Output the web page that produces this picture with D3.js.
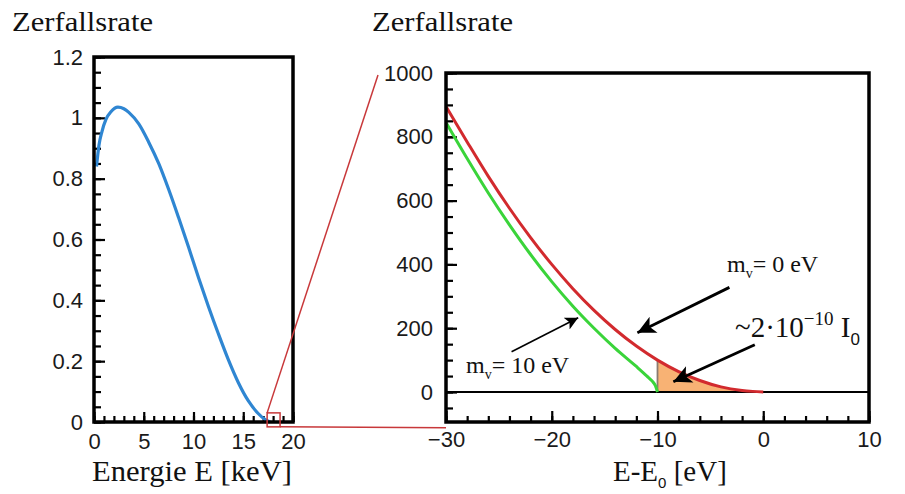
<!DOCTYPE html>
<html>
<head>
<meta charset="utf-8">
<script src="https://cdn.jsdelivr.net/npm/d3@7"></script>
<style>
  body { margin: 0; background: #fff; }
  svg { display: block; }
  .tick text { font-family: "Liberation Sans", Arial, sans-serif; font-size: 22px; fill: #1a1a1a; }
  .domain { display: none; }
  .lbl { font-family: "Liberation Serif", "Times New Roman", serif; fill: #111; }
</style>
</head>
<body>
<svg id="chart" width="905" height="494"></svg>
<script>
// full spectrum, E [keV] vs rate
var spectrumE = [0.25, 0.5, 0.8, 1.2, 1.7, 2.4, 3.0, 3.5, 4.5, 5.5, 6.5, 7.5, 8.5, 9.5, 10.5, 11.5, 12.5, 13.5, 14.5, 15.5, 16.5, 17.2, 17.7];
var spectrumRate = [0.84, 0.91, 0.955, 0.995, 1.02, 1.035, 1.03, 1.018, 0.98, 0.92, 0.85, 0.765, 0.672, 0.575, 0.475, 0.38, 0.29, 0.205, 0.13, 0.07, 0.028, 0.008, 0];

// endpoint region, E-E0 [eV]
var m0E = [-30, -28, -26, -24, -22, -20, -18, -16, -14, -12, -10, -8, -6, -4, -2, -1, 0];
var m0Rate = [895, 784, 676, 576, 484, 400, 324, 256, 196, 144, 100, 64, 36, 16, 5, 2, 0];
var m10E = [-30, -28, -26, -24, -22, -20, -18, -16, -14, -12, -11, -10.5, -10.2, -10];
var m10Rate = [845, 732, 624, 524, 431, 346, 269, 200, 137, 80, 50, 34, 20, 0];
var fillE = [-10, -8, -6, -4, -2, 0];
var fillRate = [100, 64, 36, 16, 5, 0];

var leftXTicks = [0, 5, 10, 15, 20];
var leftYTicks = [0, 0.2, 0.4, 0.6, 0.8, 1, 1.2];
var rightXTicks = [-30, -20, -10, 0, 10];
var rightYTicks = [0, 200, 400, 600, 800, 1000];

var svg = d3.select("#chart");

function styleTicks(g) {
    g.selectAll(".tick line").attr("stroke", "#000").attr("stroke-width", 2.2);
}

// ---------- left panel ----------
var xl = d3.scaleLinear().domain([0, 20]).range([94, 293]);
var yl = d3.scaleLinear().domain([0, 1.2]).range([422, 57]);

var gl = svg.append("g");
gl.append("g").attr("transform", "translate(0,422)")
    .call(d3.axisBottom(xl).tickValues(d3.range(0, 21, 1)).tickSize(-6).tickFormat(""));
gl.append("g").attr("transform", "translate(0,422)")
    .call(d3.axisBottom(xl).tickValues(leftXTicks).tickSize(-10).tickPadding(11).tickFormat(d3.format("d")));
gl.append("g").attr("transform", "translate(94,0)")
    .call(d3.axisLeft(yl).tickValues(d3.range(0, 1.21, 0.05)).tickSize(-7).tickFormat(""));
gl.append("g").attr("transform", "translate(94,0)")
    .call(d3.axisLeft(yl).tickValues(leftYTicks).tickSize(-11).tickPadding(11).tickFormat(function(d){ return d3.format("~g")(d); }));
styleTicks(gl);

svg.append("path")
    .datum(d3.zip(spectrumE, spectrumRate))
    .attr("fill", "none")
    .attr("stroke", "#2f86d2")
    .attr("stroke-width", 3.2)
    .attr("d", d3.line().x(function(d){ return xl(d[0]); }).y(function(d){ return yl(d[1]); }).curve(d3.curveMonotoneX));

svg.append("rect")
    .attr("x", 94).attr("y", 57).attr("width", 199).attr("height", 365)
    .attr("fill", "none").attr("stroke", "#000").attr("stroke-width", 3.5);

// ---------- right panel ----------
var xr = d3.scaleLinear().domain([-30, 10]).range([446, 869]);
var yr = d3.scaleLinear().domain([-94, 1000]).range([422, 73]);

// zoom marker
var zoomBox = [17.4, 18.7, -0.016, 0.03];
svg.append("line")
    .attr("x1", xl(zoomBox[0])).attr("y1", yl(zoomBox[3]))
    .attr("x2", 378).attr("y2", 75)
    .attr("stroke", "#c8383a").attr("stroke-width", 1.5);
svg.append("line")
    .attr("x1", xl(zoomBox[1])).attr("y1", yl(zoomBox[2]))
    .attr("x2", xr(-30)).attr("y2", yl(zoomBox[2]) + 1)
    .attr("stroke", "#c8383a").attr("stroke-width", 1.5);
svg.append("rect")
    .attr("x", xl(zoomBox[0])).attr("y", yl(zoomBox[3]))
    .attr("width", xl(zoomBox[1]) - xl(zoomBox[0]))
    .attr("height", yl(zoomBox[2]) - yl(zoomBox[3]))
    .attr("fill", "none").attr("stroke", "#c8383a").attr("stroke-width", 1.5);

var gr = svg.append("g");
gr.append("g").attr("transform", "translate(0,422)")
    .call(d3.axisBottom(xr).tickValues(d3.range(-30, 11, 2)).tickSize(-6).tickFormat(""));
gr.append("g").attr("transform", "translate(0,422)")
    .call(d3.axisBottom(xr).tickValues(rightXTicks).tickSize(-11).tickPadding(9));
gr.append("g").attr("transform", "translate(446,0)")
    .call(d3.axisLeft(yr).tickValues(d3.range(-50, 1001, 50)).tickSize(-7).tickFormat(""));
gr.append("g").attr("transform", "translate(446,0)")
    .call(d3.axisLeft(yr).tickValues(rightYTicks).tickSize(-11).tickPadding(13).tickFormat(d3.format("d")));
styleTicks(gr);

var lineR = d3.line().x(function(d){ return xr(d[0]); }).y(function(d){ return yr(d[1]); }).curve(d3.curveMonotoneX);

svg.append("path")
    .datum(d3.zip(fillE, fillRate))
    .attr("fill", "#f8b274")
    .attr("d", d3.area().x(function(d){ return xr(d[0]); }).y0(yr(0)).y1(function(d){ return yr(d[1]); }).curve(d3.curveMonotoneX));
svg.append("line")
    .attr("x1", xr(-10)).attr("x2", xr(-10))
    .attr("y1", yr(0)).attr("y2", yr(fillRate[0]))
    .attr("stroke", "#8a7a70").attr("stroke-width", 1.8);

svg.append("line")
    .attr("x1", 446).attr("x2", 869).attr("y1", yr(0)).attr("y2", yr(0))
    .attr("stroke", "#000").attr("stroke-width", 2);

svg.append("path")
    .datum(d3.zip(m10E, m10Rate))
    .attr("fill", "none").attr("stroke", "#3ad43a").attr("stroke-width", 3)
    .attr("d", lineR);
svg.append("path")
    .datum(d3.zip(m0E, m0Rate))
    .attr("fill", "none").attr("stroke", "#d22a2e").attr("stroke-width", 3)
    .attr("d", lineR);

svg.append("rect")
    .attr("x", 446).attr("y", 73).attr("width", 423).attr("height", 349)
    .attr("fill", "none").attr("stroke", "#000").attr("stroke-width", 3.5);

// arrows
var defs = svg.append("defs");
function head(id, w, h) {
    defs.append("marker").attr("id", id)
        .attr("viewBox", "0 0 10 10").attr("refX", 10).attr("refY", 5)
        .attr("markerWidth", w).attr("markerHeight", h)
        .attr("markerUnits", "userSpaceOnUse").attr("orient", "auto")
      .append("path").attr("d", "M0,0 L10,5 L0,10 L2.5,5 Z").attr("fill", "#000");
}
head("headS", 17, 13);
head("headL", 24, 18);

var arrows = [
    { from: [-23.8, 126], to: [-17.5, 233], w: 1.6, m: "headS" },
    { from: [-3.2, 328], to: [-11.9, 186], w: 2.8, m: "headL" },
    { from: [-0.8, 148], to: [-8.5, 32], w: 2.8, m: "headL" }
];
svg.selectAll(".arrow").data(arrows).enter().append("line")
    .attr("class", "arrow")
    .attr("x1", function(d){ return xr(d.from[0]); }).attr("y1", function(d){ return yr(d.from[1]); })
    .attr("x2", function(d){ return xr(d.to[0]); }).attr("y2", function(d){ return yr(d.to[1]); })
    .attr("stroke", "#000").attr("stroke-width", function(d){ return d.w; })
    .attr("marker-end", function(d){ return "url(#" + d.m + ")"; });

// annotation labels
function massLabel(x, y, txt) {
    var t = svg.append("text").attr("class", "lbl").attr("x", x).attr("y", y).style("font-size", "24px");
    t.append("tspan").text("m");
    t.append("tspan").attr("dy", 6).style("font-size", "14px").text("v");
    t.append("tspan").attr("dy", -6).text(txt);
}
massLabel(727, 272, "= 0 eV");
massLabel(466, 373, "= 10 eV");

var t3 = svg.append("text").attr("class", "lbl").attr("x", 735).attr("y", 337).style("font-size", "29px");
t3.append("tspan").text("~2·10");
t3.append("tspan").attr("dy", -12).style("font-size", "19px").text("−10");
t3.append("tspan").attr("dy", 12).text(" I");
t3.append("tspan").attr("dy", 8).style("font-size", "17px").style("font-family", "Liberation Sans, Arial, sans-serif").text("0");

// titles
svg.append("text").attr("class", "lbl").attr("x", 12).attr("y", 31)
    .style("font-size", "28px").attr("textLength", 141).attr("lengthAdjust", "spacingAndGlyphs").text("Zerfallsrate");
svg.append("text").attr("class", "lbl").attr("x", 372).attr("y", 31)
    .style("font-size", "28px").attr("textLength", 141).attr("lengthAdjust", "spacingAndGlyphs").text("Zerfallsrate");
svg.append("text").attr("class", "lbl").attr("x", 92).attr("y", 481)
    .style("font-size", "29px").attr("textLength", 200).attr("lengthAdjust", "spacingAndGlyphs").text("Energie E [keV]");

var t4 = svg.append("text").attr("class", "lbl").attr("x", 613).attr("y", 481).style("font-size", "29px");
t4.append("tspan").text("E-E");
t4.append("tspan").attr("dy", 7).style("font-size", "15px").style("font-family", "Liberation Sans, Arial, sans-serif").text("0");
t4.append("tspan").attr("dy", -7).text(" [eV]");
</script>
</body>
</html>
